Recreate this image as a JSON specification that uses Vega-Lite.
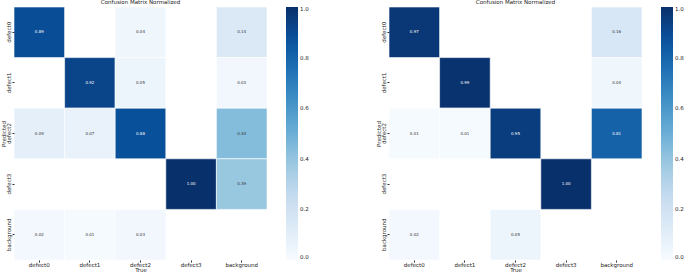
{
  "$schema": "https://vega.github.io/schema/vega-lite/v6.json",
  "padding": {"left": 1, "top": 0, "right": 0, "bottom": 0},
  "datasets": {
    "left": [
      {"pred": "defect0", "true": "defect0", "v": 0.89},
      {"pred": "defect0", "true": "defect2", "v": 0.04},
      {"pred": "defect0", "true": "background", "v": 0.14},
      {"pred": "defect1", "true": "defect1", "v": 0.92},
      {"pred": "defect1", "true": "defect2", "v": 0.05},
      {"pred": "defect1", "true": "background", "v": 0.03},
      {"pred": "defect2", "true": "defect0", "v": 0.09},
      {"pred": "defect2", "true": "defect1", "v": 0.07},
      {"pred": "defect2", "true": "defect2", "v": 0.88},
      {"pred": "defect2", "true": "background", "v": 0.44},
      {"pred": "defect3", "true": "defect3", "v": 1.0},
      {"pred": "defect3", "true": "background", "v": 0.39},
      {"pred": "background", "true": "defect0", "v": 0.02},
      {"pred": "background", "true": "defect1", "v": 0.01},
      {"pred": "background", "true": "defect2", "v": 0.03}
    ],
    "right": [
      {"pred": "defect0", "true": "defect0", "v": 0.97},
      {"pred": "defect0", "true": "background", "v": 0.16},
      {"pred": "defect1", "true": "defect1", "v": 0.99},
      {"pred": "defect1", "true": "background", "v": 0.04},
      {"pred": "defect2", "true": "defect0", "v": 0.01},
      {"pred": "defect2", "true": "defect1", "v": 0.01},
      {"pred": "defect2", "true": "defect2", "v": 0.95},
      {"pred": "defect2", "true": "background", "v": 0.81},
      {"pred": "defect3", "true": "defect3", "v": 1.0},
      {"pred": "background", "true": "defect0", "v": 0.02},
      {"pred": "background", "true": "defect2", "v": 0.05}
    ]
  },
  "config": {
    "view": {"stroke": null},
    "font": "DejaVu Sans",
    "axis": {
      "domain": false,
      "tickSize": 2,
      "tickColor": "#333",
      "labelFontSize": 5.5,
      "labelColor": "#222",
      "titleFontSize": 5.5,
      "titleFontWeight": "normal",
      "titleColor": "#222",
      "labelPadding": 1,
      "titlePadding": 0
    },
    "legend": {
      "gradientLength": 253,
      "gradientThickness": 12,
      "labelFontSize": 5.5,
      "labelColor": "#222",
      "labelOffset": 3,
      "offset": 19
    },
    "title": {"fontSize": 5.5, "fontWeight": "normal", "color": "#222", "offset": 1}
  },
  "spacing": 67,
  "resolve": {"scale": {"color": "independent"}, "legend": {"color": "independent"}},
  "hconcat": [
    {
      "data": {"name": "left"},
      "title": "Confusion Matrix Normalized",
      "width": 253,
      "height": 253,
      "encoding": {
        "x": {"field": "true", "type": "nominal", "sort": ["defect0", "defect1", "defect2", "defect3", "background"], "scale": {"domain": ["defect0", "defect1", "defect2", "defect3", "background"]}, "axis": {"labelAngle": 0, "title": "True", "labelPadding": 0}},
        "y": {"field": "pred", "type": "nominal", "sort": ["defect0", "defect1", "defect2", "defect3", "background"], "scale": {"domain": ["defect0", "defect1", "defect2", "defect3", "background"]}, "axis": {"labelAngle": -90, "title": "Predicted"}}
      },
      "layer": [
        {
          "mark": {"type": "rect", "stroke": "white", "strokeWidth": 0.6},
          "encoding": {
            "color": {"field": "v", "type": "quantitative", "title": null,
              "scale": {"domain": [0, 0.125, 0.25, 0.375, 0.5, 0.625, 0.75, 0.875, 1], "range": ["#f7fbff", "#deebf7", "#c6dbef", "#9ecae1", "#6baed6", "#4292c6", "#2171b5", "#08519c", "#08306b"]},
              "legend": {"values": [0, 0.2, 0.4, 0.6, 0.8, 1.0], "format": ".1f"}}
          }
        },
        {
          "mark": {"type": "text", "fontSize": 4},
          "encoding": {
            "text": {"field": "v", "type": "quantitative", "format": ".2f"},
            "color": {"condition": {"test": "datum.v > 0.5", "value": "#ffffff"}, "value": "#333333"}
          }
        }
      ]
    },
    {
      "data": {"name": "right"},
      "title": "Confusion Matrix Normalized",
      "width": 253,
      "height": 253,
      "encoding": {
        "x": {"field": "true", "type": "nominal", "sort": ["defect0", "defect1", "defect2", "defect3", "background"], "scale": {"domain": ["defect0", "defect1", "defect2", "defect3", "background"]}, "axis": {"labelAngle": 0, "title": "True", "labelPadding": 0}},
        "y": {"field": "pred", "type": "nominal", "sort": ["defect0", "defect1", "defect2", "defect3", "background"], "scale": {"domain": ["defect0", "defect1", "defect2", "defect3", "background"]}, "axis": {"labelAngle": -90, "title": "Predicted"}}
      },
      "layer": [
        {
          "mark": {"type": "rect", "stroke": "white", "strokeWidth": 0.6},
          "encoding": {
            "color": {"field": "v", "type": "quantitative", "title": null,
              "scale": {"domain": [0, 0.125, 0.25, 0.375, 0.5, 0.625, 0.75, 0.875, 1], "range": ["#f7fbff", "#deebf7", "#c6dbef", "#9ecae1", "#6baed6", "#4292c6", "#2171b5", "#08519c", "#08306b"]},
              "legend": {"values": [0, 0.2, 0.4, 0.6, 0.8, 1.0], "format": ".1f"}}
          }
        },
        {
          "mark": {"type": "text", "fontSize": 4},
          "encoding": {
            "text": {"field": "v", "type": "quantitative", "format": ".2f"},
            "color": {"condition": {"test": "datum.v > 0.5", "value": "#ffffff"}, "value": "#333333"}
          }
        }
      ]
    }
  ]
}
